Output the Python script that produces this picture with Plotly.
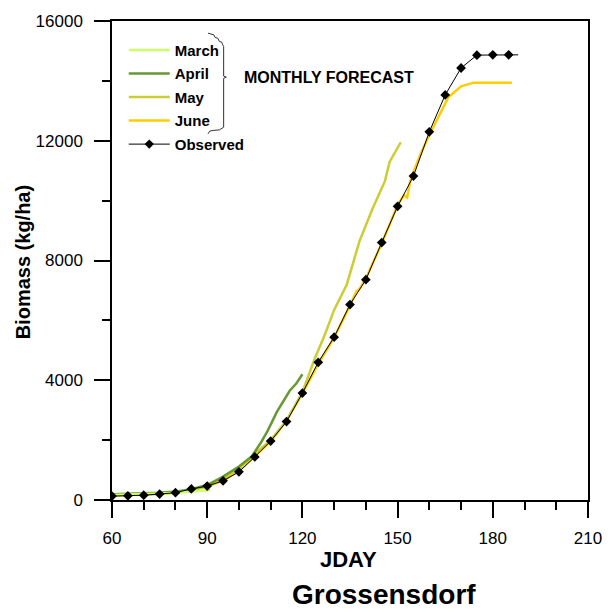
import plotly.graph_objects as go

# ---------------- data ----------------
march_day = [60, 65, 70, 75, 80, 85, 90, 91]
march_val = [170, 180, 195, 215, 240, 270, 310, 330]

april_day = [60, 65, 70, 75, 80, 85, 90, 95, 100, 104, 107, 109, 112, 116, 118, 120]
april_val = [190, 200, 215, 240, 280, 360, 500, 780, 1120, 1450, 1930, 2300, 2950, 3650, 3880, 4200]

may_day = [60, 65, 70, 75, 80, 85, 90, 95, 100, 105, 110, 115, 120, 122, 124, 127,
           130, 134, 138, 142, 146, 147.5, 151]
may_val = [160, 170, 185, 210, 250, 330, 460, 700, 1050, 1550, 2000, 2650, 3600, 4150,
           4750, 5500, 6350, 7200, 8650, 9700, 10650, 11300, 11950]

june_day = [60, 65, 70, 75, 80, 85, 90, 95, 100, 105, 110, 115, 120, 125, 130, 135, 137,
            138, 140, 145, 150, 152, 153, 154, 157, 160, 163, 166, 170, 174, 186]
june_val = [150, 160, 175, 200, 240, 320, 450, 650, 980, 1450, 1950, 2650, 3550, 4550,
            5420, 6500, 6970, 7050, 7400, 8570, 9850, 10180, 10100, 10680, 11500, 12200,
            12800, 13450, 13820, 13940, 13940]

obs_day = [60, 65, 70, 75, 80, 85, 90, 95, 100, 105, 110, 115, 120, 125, 130, 135, 140,
           145, 150, 155, 160, 165, 170, 175, 180, 185, 188]
obs_val = [130, 140, 160, 200, 245, 370, 465, 640, 940, 1440, 1970, 2620, 3570, 4600,
           5440, 6530, 7360, 8600, 9810, 10820, 12300, 13530, 14430, 14860, 14870, 14870,
           14870]

series_names = ["March", "April", "May", "June", "Observed"]
x_ticks = [60, 90, 120, 150, 180, 210]
y_ticks = [0, 4000, 8000, 12000, 16000]

# ---------------- layout geometry ----------------
W, H = 614, 612
L, R, T, B = 112, 16, 16, 112
PW, PH = W - L - R, H - T - B

def px(xp):
    return (xp - L) / PW

def py(yp):
    return (H - B - yp) / PH

FONT = "Arial, Liberation Sans, sans-serif"

fig = go.Figure()

colors = {"March": "#ccff66", "April": "#669933", "May": "#cccc33", "June": "#ffcc00"}
data = {"March": (march_day, march_val), "April": (april_day, april_val),
        "May": (may_day, may_val), "June": (june_day, june_val)}
rank = {n: i + 1 for i, n in enumerate(series_names)}

for name in ["June", "May", "April", "March"]:
    d, v = data[name]
    fig.add_trace(go.Scatter(x=d, y=v, mode="lines", name=name,
                             line=dict(color=colors[name], width=2.5),
                             legendgroup=name, legendrank=rank[name]))

msizes = [7.5] * (len(obs_day) - 1) + [0]
fig.add_trace(go.Scatter(x=obs_day, y=obs_val, mode="lines+markers", name="Observed",
                         line=dict(color="black", width=1),
                         marker=dict(symbol="diamond", size=msizes, color="#000000",
                                     opacity=1, line=dict(width=0, color="#000000")),
                         legendgroup="Observed", legendrank=rank["Observed"]))

axis_common = dict(showline=True, linecolor="black", linewidth=1.5, mirror=True,
                   ticks="outside", ticklen=16, tickwidth=1.5, tickcolor="black",
                   showgrid=False, zeroline=False, tickformat="d",
                   tickfont=dict(family=FONT, size=17, color="black"))

fig.update_xaxes(range=[60, 210], tickvals=x_ticks,
                 minor=dict(dtick=10, tick0=60, ticks="outside", ticklen=8,
                            tickwidth=1.5, tickcolor="black", showgrid=False),
                 ticklabelstandoff=6, **axis_common)
fig.update_yaxes(range=[0, 16000], tickvals=y_ticks,
                 minor=dict(dtick=2000, tick0=0, ticks="outside", ticklen=8,
                            tickwidth=1.5, tickcolor="black", showgrid=False),
                 ticklabelstandoff=8, **axis_common)

# brace path (pixel coords -> paper)
brace_pts = [(210, 28.3), (216, 30), (217.3, 32.7), (220, 33.3), (221.7, 36.7),
             (224, 37.3), (225, 40), (226, 41.7), (226, 71.7), (228.7, 72.7),
             (226, 74), (226, 123.3), (221.7, 126), (216, 126.5), (211.7, 127.3),
             (210, 130)]
path = "M " + " L ".join(f"{px(a):.5f},{py(b):.5f}" for a, b in brace_pts)
fig.add_shape(type="path", path=path, xref="paper", yref="paper",
              line=dict(color="#333333", width=1))

fig.add_annotation(text="<b>MONTHLY FORECAST</b>", x=px(245), y=py(73.5),
                   xref="paper", yref="paper", xanchor="left", yanchor="middle",
                   showarrow=False, font=dict(family=FONT, size=16, color="black"))
fig.add_annotation(text="<b>Biomass (kg/ha)</b>", x=px(22), y=py(260), textangle=-90,
                   xref="paper", yref="paper", xanchor="center", yanchor="middle",
                   showarrow=False, font=dict(family=FONT, size=20, color="black"))
fig.add_annotation(text="<b>JDAY</b>", x=px(353), y=py(560),
                   xref="paper", yref="paper", xanchor="center", yanchor="middle",
                   showarrow=False, font=dict(family=FONT, size=22, color="black"))
fig.add_annotation(text="<b>Grossensdorf</b>", x=px(390), y=py(595),
                   xref="paper", yref="paper", xanchor="center", yanchor="middle",
                   showarrow=False, font=dict(family=FONT, size=28, color="black"))

fig.update_layout(
    width=W, height=H,
    margin=dict(l=L, r=R, t=T, b=B),
    paper_bgcolor="white", plot_bgcolor="white",
    showlegend=True,
    legend=dict(x=px(124), y=py(29), xanchor="left", yanchor="top",
                bgcolor="rgba(0,0,0,0)", borderwidth=0, tracegroupgap=1,
                traceorder="grouped", itemwidth=41,
                font=dict(family=FONT, size=15, color="black", weight="bold")),
)

fig.write_html("out.html")
